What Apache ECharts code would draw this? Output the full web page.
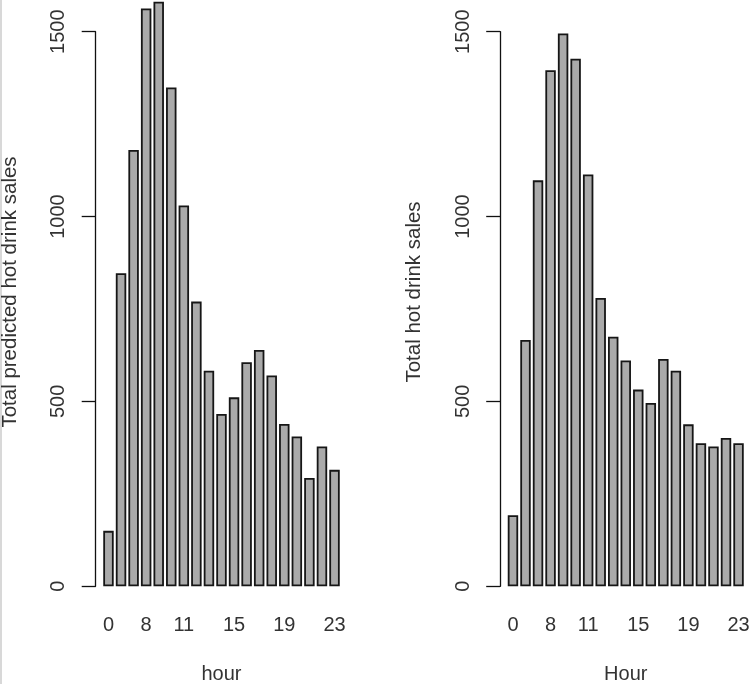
<!DOCTYPE html>
<html>
<head>
<meta charset="utf-8">
<script src="https://cdn.jsdelivr.net/npm/echarts@6/dist/echarts.min.js"></script>
<style>
  html, body { margin: 0; padding: 0; background: #fff; }
  #chart { width: 750px; height: 684px; }
</style>
</head>
<body>
<div id="chart"></div>
<script>
  // hours shown on both panels (1-5 are missing in the data)
  const hours = ['0', '6', '7', '8', '9', '10', '11', '12', '13', '14', '15', '16', '17', '18', '19', '20', '21', '22', '23'];
  const shownHours = ['0', '8', '11', '15', '19', '23'];
  const yTicks = [0, 500, 1000, 1500];

  const predictedSales = [150, 847, 1180, 1563, 1581, 1349, 1030, 770, 583, 466, 511, 606, 639, 570, 439, 405, 293, 378, 315];
  const actualSales = [192, 666, 1098, 1396, 1495, 1427, 1114, 780, 675, 611, 532, 496, 615, 583, 438, 387, 378, 401, 387];

  const font = 'Liberation Sans, Arial, sans-serif';
  const textColor = '#333';

  function xAxisFor(gridIndex, title) {
    return {
      type: 'category',
      gridIndex: gridIndex,
      data: hours,
      name: title,
      nameLocation: 'middle',
      nameGap: 78,
      nameTextStyle: { fontSize: 20, color: textColor, fontFamily: font },
      axisLine: { show: false },
      axisTick: { show: false },
      axisLabel: {
        interval: 0,
        margin: 29,
        fontSize: 20,
        color: textColor,
        fontFamily: font,
        formatter: v => shownHours.includes(v) ? v : ''
      }
    };
  }

  function yAxisFor(gridIndex, title) {
    return {
      type: 'value',
      gridIndex: gridIndex,
      min: yTicks[0],
      max: yTicks[yTicks.length - 1],
      interval: 500,
      offset: 6.5,
      name: title,
      nameLocation: 'middle',
      nameRotate: 90,
      nameGap: 75,
      nameTextStyle: { fontSize: 20.5, color: textColor, fontFamily: font, padding: [0, 0, 0, 34] },
      axisLine: { show: true, lineStyle: { color: '#111', width: 1.3 } },
      axisTick: { show: true, inside: false, length: 14, lineStyle: { color: '#111', width: 1.3 } },
      splitLine: { show: false },
      axisLabel: {
        rotate: 90,
        margin: 27,
        fontSize: 20,
        color: textColor,
        fontFamily: font,
        formatter: v => String(v)
      }
    };
  }

  function barSeries(idx, values) {
    return {
      type: 'bar',
      xAxisIndex: idx,
      yAxisIndex: idx,
      data: values,
      clip: false,
      barCategoryGap: '16.7%',
      itemStyle: { color: '#aaaaaa', borderColor: '#161616', borderWidth: 1.8 },
      emphasis: { disabled: true }
    };
  }

  const chart = echarts.init(document.getElementById('chart'));
  chart.setOption({
    animation: false,
    backgroundColor: '#fff',
    grid: [
      { left: 102.2, width: 238.6, top: 31.7, bottom: 97.7, containLabel: false, outerBoundsMode: 'none' },
      { left: 506.7, width: 238.1, top: 31.7, bottom: 97.7, containLabel: false, outerBoundsMode: 'none' }
    ],
    xAxis: [
      xAxisFor(0, 'hour'),
      xAxisFor(1, 'Hour')
    ],
    yAxis: [
      yAxisFor(0, 'Total predicted hot drink sales'),
      yAxisFor(1, 'Total hot drink sales')
    ],
    series: [
      barSeries(0, predictedSales),
      barSeries(1, actualSales)
    ],
    graphic: [
      {
        type: 'line',
        shape: { x1: 1, y1: 0, x2: 1, y2: 684 },
        style: { stroke: '#d8d8d8', lineWidth: 2 }
      }
    ]
  });
</script>
</body>
</html>
